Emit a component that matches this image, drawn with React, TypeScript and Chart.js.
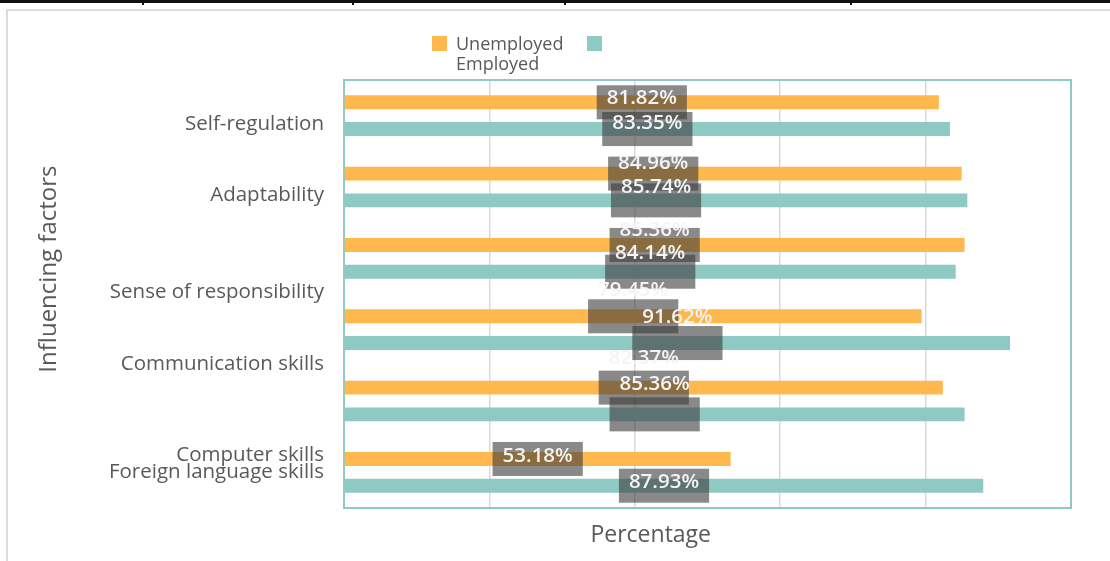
import React, { useEffect, useRef } from "react";
import { Chart, registerables } from "chart.js";

Chart.register(...registerables);

const categories = [
  "Self-regulation",
  "Adaptability",
  "Sense of responsibility",
  "Communication skills",
  "Computer skills",
  "Foreign language skills",
];
const seriesNames = ["Unemployed", "Employed"];
const unemployed = [81.82, 84.96, 85.36, 79.45, 82.37, 53.18];
const employed = [83.35, 85.74, 84.14, 91.62, 85.36, 87.93];
const xTicks = [0, 20, 40, 60, 80, 100];

const ORANGE = "#FFB84D";
const TEAL = "#8FC9C4";
const GREY_TEXT = "#595959";
const FONT = '"Open Sans", "DejaVu Sans", sans-serif';

// vertical nudge of each value text relative to its bar (styling only)
const textNudge = [
  [-4, -10, -15, -26, -29, -3],
  [-6, -13, -19, -26, -30, -4],
];

// how the reference lays out the (misplaced) axis labels
const tickLines = (i: number): string | string[] => {
  switch (i) {
    case 0:
      return ["", categories[0]];
    case 1:
      return ["", categories[1]];
    case 2:
      return ["", "", "", "", categories[2]];
    case 3:
      return ["", "", "", "", categories[3]];
    case 4:
      return "";
    case 5:
      return [categories[4], categories[5], ""];
    default:
      return categories[i];
  }
};

const framePlugin = {
  id: "frame",
  beforeDatasetsDraw(chart: any) {
    const { ctx, chartArea } = chart;
    const { left, top, right, bottom } = chartArea;
    ctx.save();
    ctx.strokeStyle = TEAL;
    ctx.lineWidth = 2;
    ctx.strokeRect(left, top, right - left, bottom - top);
    ctx.restore();
  },
};

const valueLabelPlugin = {
  id: "valueLabels",
  afterDatasetsDraw(chart: any) {
    const { ctx } = chart;
    ctx.save();
    ctx.font = `600 20.5px ${FONT}`;
    const items: any[] = [];
    chart.data.datasets.forEach((ds: any, di: number) => {
      const meta = chart.getDatasetMeta(di);
      meta.data.forEach((el: any, i: number) => {
        const text = `${Number(ds.data[i]).toFixed(2)}%`;
        const cx = (el.x + el.base) / 2;
        const w = ctx.measureText(text).width + 20;
        const h = 34;
        items.push({ text, cx, cy: el.y, w, h, nudge: textNudge[di][i] });
      });
    });
    // boxes first
    ctx.fillStyle = "rgba(58,58,58,0.6)";
    items.forEach((it) => {
      ctx.fillRect(it.cx - it.w / 2, it.cy - it.h / 2, it.w, it.h);
    });
    // then texts
    ctx.fillStyle = "#F4F4F4";
    ctx.textAlign = "center";
    ctx.textBaseline = "middle";
    items.forEach((it) => {
      ctx.fillText(it.text, it.cx, it.cy + it.nudge);
    });
    ctx.restore();
  },
};

export default function App() {
  const canvasRef = useRef<HTMLCanvasElement | null>(null);

  useEffect(() => {
    document.body.style.margin = "0";
    const canvas = canvasRef.current;
    if (!canvas) return;
    const chart = new Chart(canvas, {
      type: "bar",
      data: {
        labels: categories,
        datasets: [
          {
            label: seriesNames[0],
            data: unemployed,
            backgroundColor: ORANGE,
            categoryPercentage: 0.75,
            barPercentage: 0.52,
          },
          {
            label: seriesNames[1],
            data: employed,
            backgroundColor: TEAL,
            categoryPercentage: 0.75,
            barPercentage: 0.52,
          },
        ],
      },
      options: {
        indexAxis: "y",
        animation: false,
        responsive: true,
        maintainAspectRatio: false,
        layout: { padding: { left: 35, right: 39, top: 80, bottom: 0 } },
        plugins: {
          legend: { display: false },
          tooltip: { enabled: false },
        },
        scales: {
          x: {
            min: xTicks[0],
            max: xTicks[xTicks.length - 1],
            afterBuildTicks: (scale: any) => {
              scale.ticks = xTicks.map((v) => ({ value: v }));
            },
            ticks: { display: false },
            grid: { color: "#D9D9D9", lineWidth: 1.5, drawTicks: false },
            border: { display: false },
            title: {
              display: true,
              text: "Percentage" + " ".repeat(19),
              color: GREY_TEXT,
              font: { family: FONT, size: 23 },
              padding: { top: 0, bottom: 12 },
            },
            afterFit: (scale: any) => {
              scale.height = 53;
            },
          },
          y: {
            grid: { display: false, drawTicks: false },
            border: { display: false },
            ticks: {
              autoSkip: false,
              padding: 20,
              color: GREY_TEXT,
              font: { family: FONT, size: 20.5, lineHeight: 0.83 },
              callback: (_v: any, i: number) => tickLines(i),
            },
            title: {
              display: true,
              text: " ".repeat(8) + "Influencing factors",
              color: GREY_TEXT,
              font: { family: FONT, size: 24 },
              padding: { top: 0, bottom: 0 },
            },
            afterFit: (scale: any) => {
              scale.width = 309;
            },
          },
        },
      },
      plugins: [framePlugin, valueLabelPlugin],
    });
    return () => chart.destroy();
  }, []);

  const tickXs = [142, 352, 564, 850];

  return (
    <div
      style={{
        position: "relative",
        width: 1110,
        height: 561,
        overflow: "hidden",
        background: "#fff",
        fontFamily: FONT,
      }}
    >
      <div
        style={{
          position: "absolute",
          left: 6,
          top: 9,
          width: 1200,
          height: 700,
          border: "2px solid #DCDCDC",
          boxSizing: "border-box",
        }}
      />
      <div
        style={{
          position: "absolute",
          left: 0,
          top: 0,
          width: 1110,
          height: 3,
          background: "#111",
        }}
      />
      {tickXs.map((x) => (
        <div
          key={x}
          style={{
            position: "absolute",
            left: x,
            top: 0,
            width: 2,
            height: 5,
            background: "#111",
          }}
        />
      ))}
      <div style={{ position: "absolute", left: 0, top: 0, width: 1110, height: 561 }}>
        <canvas ref={canvasRef} />
      </div>
      <div
        style={{
          position: "absolute",
          left: 432,
          top: 33,
          color: GREY_TEXT,
          fontSize: 18,
          lineHeight: "20px",
        }}
      >
        <div style={{ display: "flex", alignItems: "center" }}>
          <span
            style={{ display: "inline-block", width: 15, height: 15, background: ORANGE, marginRight: 9 }}
          />
          <span>{seriesNames[0]}</span>
          <span
            style={{ display: "inline-block", width: 15, height: 15, background: TEAL, marginLeft: 24 }}
          />
        </div>
        <div style={{ paddingLeft: 24 }}>{seriesNames[1]}</div>
      </div>
    </div>
  );
}
